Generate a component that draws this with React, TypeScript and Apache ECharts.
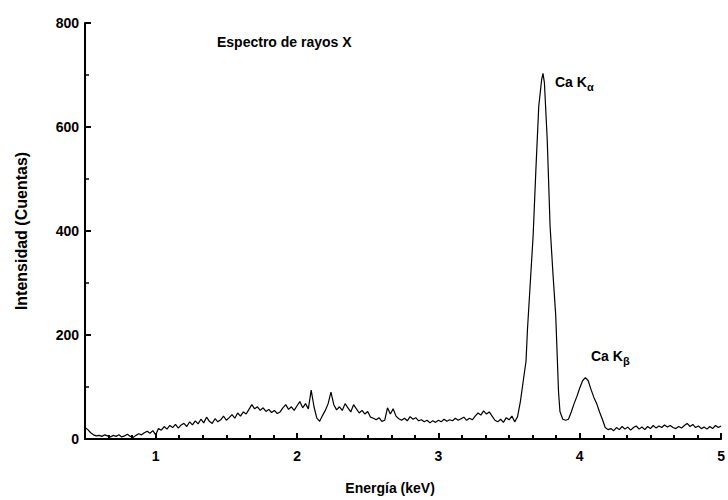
import React, { useEffect, useRef } from "react";
import * as echarts from "echarts";

// Background region 0.50 – 1.00 keV
const energyLow = [0.5, 0.52, 0.54, 0.56, 0.58, 0.6, 0.62, 0.64, 0.66, 0.68, 0.7, 0.72, 0.74, 0.76, 0.78, 0.8, 0.82, 0.84, 0.86, 0.88, 0.9, 0.92, 0.94, 0.96, 0.98, 1.0];
const countsLow = [22, 18, 12, 8, 6, 7, 5, 8, 6, 4, 7, 5, 8, 4, 6, 9, 5, 3, 7, 10, 8, 12, 15, 11, 16, 8];

// Bremsstrahlung region 1.02 – 3.56 keV
const energyMid = [
  1.02, 1.04, 1.06, 1.08, 1.1, 1.12, 1.14, 1.16, 1.18, 1.2, 1.22, 1.24, 1.26, 1.28, 1.3, 1.32, 1.34, 1.36, 1.38, 1.4,
  1.42, 1.44, 1.46, 1.48, 1.5, 1.52, 1.54, 1.56, 1.58, 1.6, 1.62, 1.64, 1.66, 1.68, 1.7, 1.72, 1.74, 1.76, 1.78, 1.8,
  1.82, 1.84, 1.86, 1.88, 1.9, 1.92, 1.94, 1.96, 1.98, 2.0, 2.02, 2.04, 2.06, 2.08, 2.1, 2.12, 2.14, 2.16, 2.18, 2.2,
  2.22, 2.24, 2.26, 2.28, 2.3, 2.32, 2.34, 2.36, 2.38, 2.4, 2.42, 2.44, 2.46, 2.48, 2.5, 2.52, 2.54, 2.56, 2.58, 2.6,
  2.62, 2.64, 2.66, 2.68, 2.7, 2.72, 2.74, 2.76, 2.78, 2.8, 2.82, 2.84, 2.86, 2.88, 2.9, 2.92, 2.94, 2.96, 2.98, 3.0,
  3.02, 3.04, 3.06, 3.08, 3.1, 3.12, 3.14, 3.16, 3.18, 3.2, 3.22, 3.24, 3.26, 3.28, 3.3, 3.32, 3.34, 3.36, 3.38, 3.4,
  3.42, 3.44, 3.46, 3.48, 3.5, 3.52, 3.54, 3.56,
];
const countsMid = [
  20, 17, 24, 19, 26, 22, 28, 21, 27, 30, 24, 33, 27, 35, 29, 38, 31, 42, 34, 30,
  39, 33, 37, 44, 36, 41, 47, 40, 50, 44, 52, 48, 57, 66, 58, 62, 55, 60, 53, 57,
  51, 55, 49, 52, 60, 66, 57, 62, 55, 64, 72, 60, 68, 58, 94, 62, 40, 34, 45, 55,
  68, 90, 66, 56, 62, 55, 68, 60, 52, 66, 58, 50, 55, 48, 53, 42, 40, 37, 41, 34,
  36, 60, 48, 58, 44, 39, 36, 40, 35, 43, 38, 41, 35, 37, 33, 36, 31, 35, 32, 36,
  33, 38, 34, 37, 35, 40, 36, 39, 42, 36, 40, 37, 44, 50, 46, 54, 48, 52, 44, 36,
  33, 38, 32, 41, 37, 44, 33, 43,
];

// Ca K-alpha and K-beta peaks 3.58 – 4.20 keV
const energyPeak = [3.58, 3.6, 3.62, 3.63, 3.65, 3.67, 3.69, 3.71, 3.73, 3.74, 3.75, 3.77, 3.79, 3.81, 3.83, 3.85, 3.86, 3.88, 3.9, 3.92, 3.94, 3.96, 3.98, 4.0, 4.02, 4.04, 4.06, 4.08, 4.1, 4.12, 4.14, 4.16, 4.18, 4.2];
const countsPeak = [72, 111, 150, 210, 300, 390, 520, 640, 690, 703, 685, 575, 410, 320, 238, 90, 53, 38, 36, 38, 52, 68, 82, 98, 112, 118, 112, 95, 80, 68, 52, 38, 22, 18];

// Tail region 4.22 – 5.00 keV
const energyHigh = [4.22, 4.24, 4.26, 4.28, 4.3, 4.32, 4.34, 4.36, 4.38, 4.4, 4.42, 4.44, 4.46, 4.48, 4.5, 4.52, 4.54, 4.56, 4.58, 4.6, 4.62, 4.64, 4.66, 4.68, 4.7, 4.72, 4.74, 4.76, 4.78, 4.8, 4.82, 4.84, 4.86, 4.88, 4.9, 4.92, 4.94, 4.96, 4.98, 5.0];
const countsHigh = [20, 16, 22, 18, 24, 19, 23, 17, 22, 25, 19, 23, 18, 24, 20, 26, 21, 25, 22, 27, 23, 26, 22, 20, 24, 21, 26, 30, 24, 28, 22, 25, 20, 23, 19, 24, 20, 26, 22, 25];

const titleText = "Espectro de rayos X";
const xName = "Energía (keV)";
const yName = "Intensidad (Cuentas)";

export default function App() {
  const ref = useRef<HTMLDivElement>(null);
  useEffect(() => {
    document.body.style.margin = "0";
    if (!ref.current) return;
    const chart = echarts.init(ref.current, null, { renderer: "svg" });
    const energy = [...energyLow, ...energyMid, ...energyPeak, ...energyHigh];
    const counts = [...countsLow, ...countsMid, ...countsPeak, ...countsHigh];
    const data = energy.map((e, i) => [e, counts[i]]);
    const font = "'Liberation Sans', Arial, sans-serif";
    const axisLine = { show: true, lineStyle: { color: "#000", width: 2 } };
    chart.setOption({
      animation: false,
      backgroundColor: "#fff",
      grid: { left: 85, right: 5, top: 23, bottom: 59, containLabel: false },
      xAxis: {
        type: "value",
        min: 0.5,
        max: 5,
        splitNumber: 5,
        name: xName,
        nameLocation: "middle",
        nameGap: 42,
        nameTextStyle: { fontFamily: font, fontWeight: "bold", fontSize: 14, color: "#000", padding: [0, 26, 0, 0] },
        axisLine,
        axisTick: { show: true, inside: true, length: 6, lineStyle: { color: "#000", width: 2 } },
        minorTick: { show: true, splitNumber: 6, length: 4, lineStyle: { color: "#000", width: 2 } },
        splitLine: { show: false },
        axisLabel: {
          showMinLabel: false,
          margin: 10,
          fontFamily: font,
          fontWeight: "bold",
          fontSize: 14,
          color: "#000",
        },
      },
      yAxis: {
        type: "value",
        min: 0,
        max: 800,
        interval: 200,
        name: yName,
        nameLocation: "middle",
        nameGap: 56,
        nameTextStyle: { fontFamily: font, fontWeight: "bold", fontSize: 16, color: "#000" },
        axisLine,
        axisTick: { show: true, inside: true, length: 6, lineStyle: { color: "#000", width: 2 } },
        minorTick: { show: true, splitNumber: 2, length: 4, lineStyle: { color: "#000", width: 1.5 } },
        splitLine: { show: false },
        axisLabel: { margin: 6, fontFamily: font, fontWeight: "bold", fontSize: 14, color: "#000" },
      },
      series: [
        {
          type: "line",
          data,
          showSymbol: false,
          symbol: "none",
          lineStyle: { color: "#000", width: 1.2 },
          silent: true,
        },
      ],
      graphic: [
        {
          type: "text",
          left: 217,
          top: 35,
          style: { text: titleText, font: `bold 14px ${font}`, fill: "#000" },
        },
        {
          type: "text",
          left: 555,
          top: 75,
          style: {
            text: "{a|Ca K}{s|α}",
            rich: {
              a: { font: `bold 14px ${font}`, fill: "#000" },
              s: { font: `bold 11px ${font}`, fill: "#000", padding: [10, 0, 0, 0] },
            },
          },
        },
        {
          type: "text",
          left: 591,
          top: 349,
          style: {
            text: "{a|Ca K}{s|β}",
            rich: {
              a: { font: `bold 14px ${font}`, fill: "#000" },
              s: { font: `bold 11px ${font}`, fill: "#000", padding: [10, 0, 0, 0] },
            },
          },
        },
      ],
    });
    return () => chart.dispose();
  }, []);
  return <div ref={ref} style={{ width: 728, height: 500 }} />;
}
